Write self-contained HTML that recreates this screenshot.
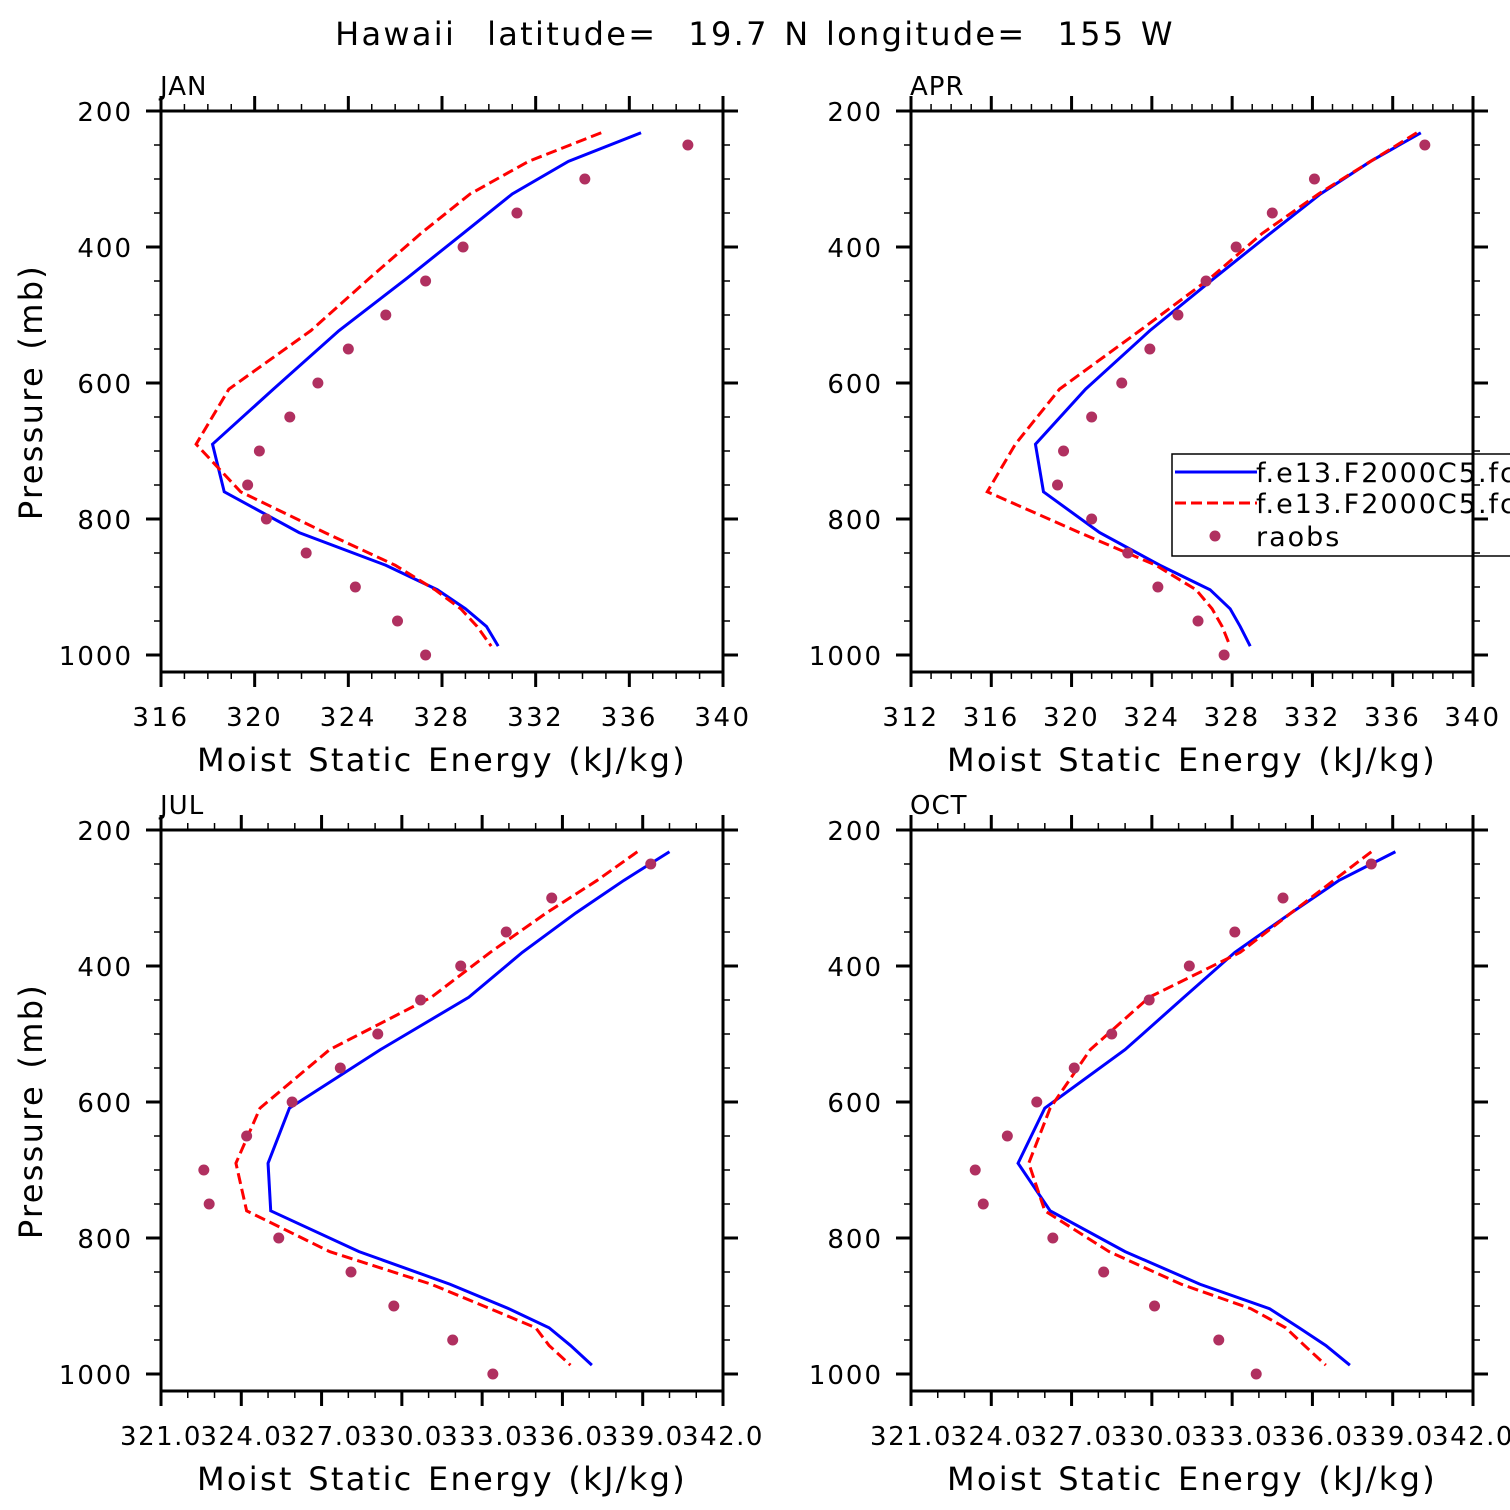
<!DOCTYPE html>
<html><head><meta charset="utf-8"><style>
html,body{margin:0;padding:0;background:#fff;}
svg{display:block;font-family:"DejaVu Sans","Liberation Sans",sans-serif;}
</style></head><body>
<svg id="chart" width="1510" height="1510" viewBox="0 0 1510 1510" xmlns="http://www.w3.org/2000/svg">
<text x="755" y="45" text-anchor="middle" font-size="32" letter-spacing="2.3" word-spacing="3" fill="#000" xml:space="preserve">Hawaii  latitude=  19.7 N longitude=  155 W</text>
</svg>
<script>
const levels=[232,274,322,380,446,523,609,690,760,820,868,904,932,958,987];
const obsLevels=[250,300,350,400,450,500,550,600,650,700,750,800,850,900,950,1000];
const janBlue=[336.5,333.4,331.0,328.9,326.5,323.6,320.8,318.2,318.7,321.9,325.6,327.8,329.0,329.9,330.4];
const janRed=[334.8,331.7,329.2,327.1,324.9,322.4,318.9,317.5,319.4,323.0,326.0,327.7,328.8,329.5,330.1];
const janObs=[338.5,334.1,331.2,328.9,327.3,325.6,324.0,322.7,321.5,320.2,319.7,320.5,322.2,324.3,326.1,327.3];
const aprBlue=[337.4,334.9,332.4,329.9,327.1,323.9,320.7,318.2,318.6,321.4,324.4,326.9,327.9,328.4,328.9];
const aprRed=[337.2,334.9,332.3,329.5,326.9,323.4,319.4,317.2,315.8,320.4,324.2,326.2,327.0,327.5,327.9];
const aprObs=[337.6,332.1,330.0,328.2,326.7,325.3,323.9,322.5,321.0,319.6,319.3,321.0,322.8,324.3,326.3,327.6];
const julBlue=[340.0,338.3,336.5,334.5,332.5,329.2,325.8,325.0,325.1,328.4,331.8,334.0,335.5,336.3,337.1];
const julRed=[338.8,337.3,335.4,333.3,331.1,327.3,324.7,323.8,324.2,327.3,331.1,333.3,335.0,335.5,336.3];
const julObs=[339.3,335.6,333.9,332.2,330.7,329.1,327.7,325.9,324.2,322.6,322.8,325.4,328.1,329.7,331.9,333.4];
const octBlue=[339.1,337.0,335.2,333.1,331.2,329.0,326.0,325.0,326.2,329.0,331.8,334.4,335.5,336.5,337.4];
const octRed=[338.2,336.8,335.2,333.3,329.9,327.7,326.2,325.4,326.0,328.4,331.1,333.7,335.0,335.7,336.5];
const octObs=[338.2,334.9,333.1,331.4,329.9,328.5,327.1,325.7,324.6,323.4,323.7,326.3,328.2,330.1,332.5,333.9];
const yTicks=[200,400,600,800,1000];
const xTicksA=[316,320,324,328,332,336,340];
const xTicksB=[312,316,320,324,328,332,336,340];
const xTicksC=[321,324,327,330,333,336,339,342];

const NS='http://www.w3.org/2000/svg';
const svg=document.getElementById('chart');
function mk(tag,attrs,parent){const e=document.createElementNS(NS,tag);for(const k in attrs)e.setAttribute(k,attrs[k]);(parent||svg).appendChild(e);return e;}

const panels=[
 {name:'jan',label:'JAN',x0:161,y0:111,xmin:316,xmax:340,ticks:xTicksA,dec:0,blue:janBlue,red:janRed,obs:janObs,ylab:true},
 {name:'apr',label:'APR',x0:911,y0:111,xmin:312,xmax:340,ticks:xTicksB,dec:0,blue:aprBlue,red:aprRed,obs:aprObs,ylab:false,legend:true},
 {name:'jul',label:'JUL',x0:161,y0:830,xmin:321,xmax:342,ticks:xTicksC,dec:1,blue:julBlue,red:julRed,obs:julObs,ylab:true},
 {name:'oct',label:'OCT',x0:911,y0:830,xmin:321,xmax:342,ticks:xTicksC,dec:1,blue:octBlue,red:octRed,obs:octObs,ylab:false}
];
const W=562,H=561;
panels.forEach(p=>{
 const g=mk('g',{});
 
 
 const xs=v=>p.x0+(v-p.xmin)/(p.xmax-p.xmin)*W;
 const ys=v=>p.y0+(v-200)*0.68;
 const t=mk('text',{x:p.x0-1,y:p.y0-16,'font-size':26,'letter-spacing':1},g);t.textContent=p.label;
 
 
 const bl=mk('polyline',{points:levels.map((l,i)=>xs(p.blue[i])+','+ys(l)).join(' '),fill:'none',stroke:'#0000ff','stroke-width':3},g);
 
 
 const rl=mk('polyline',{points:levels.map((l,i)=>xs(p.red[i])+','+ys(l)).join(' '),fill:'none',stroke:'#ff0000','stroke-width':3,'stroke-dasharray':'11,5'},g);
 
 
 obsLevels.forEach((l,i)=>{
  const c=mk('circle',{cx:xs(p.obs[i]),cy:ys(l),r:5.5,fill:'#b03060'},g);
  
  
 });
 if(p.legend){
  const lg=mk('g',{},g);
  
  
  mk('rect',{x:1172,y:454,width:400,height:102,fill:'#fff',stroke:'#000','stroke-width':1.5},lg);
  mk('line',{x1:1175,y1:472,x2:1257,y2:472,stroke:'#0000ff','stroke-width':3},lg);
  mk('line',{x1:1175,y1:503,x2:1257,y2:503,stroke:'#ff0000','stroke-width':3,'stroke-dasharray':'11,5'},lg);
  mk('circle',{cx:1215,cy:536,r:5.5,fill:'#b03060'},lg);
  [['f.e13.F2000C5.fc',482],['f.e13.F2000C5.fc',513],['raobs',546]].forEach(([s,y])=>{
   const tx=mk('text',{x:1256,y:y,'font-size':27,'letter-spacing':2},lg);tx.textContent=s;
   
   
  });
 }
 mk('rect',{x:p.x0,y:p.y0,width:W,height:H,fill:'none',stroke:'#000','stroke-width':3},g);
 for(let v=200;v<=1000;v+=50){
  const y=ys(v),maj=v%200===0,L=maj?15:7,w=maj?3:1.5;
  mk('line',{x1:p.x0-L,y1:y,x2:p.x0,y2:y,stroke:'#000','stroke-width':w},g);
  mk('line',{x1:p.x0+W,y1:y,x2:p.x0+W+L,y2:y,stroke:'#000','stroke-width':w},g);
 }
 yTicks.forEach(v=>{
  const tx=mk('text',{x:p.x0-28,y:ys(v)+10,'text-anchor':'end','font-size':26,'letter-spacing':2},g);tx.textContent=v;
  
  
 });
 for(let v=p.xmin;v<=p.xmax+1e-6;v+=1){
  const x=xs(v),maj=p.ticks.includes(v),L=maj?15:7,w=maj?3:1.5;
  mk('line',{x1:x,y1:p.y0+H,x2:x,y2:p.y0+H+L,stroke:'#000','stroke-width':w},g);
  mk('line',{x1:x,y1:p.y0-L,x2:x,y2:p.y0,stroke:'#000','stroke-width':w},g);
 }
 p.ticks.forEach(v=>{
  const tx=mk('text',{x:xs(v),y:p.y0+H+54,'text-anchor':'middle','font-size':26,'letter-spacing':p.dec?1.5:2.5},g);tx.textContent=v.toFixed(p.dec);
  
  
 });
 const xt=mk('text',{x:p.x0+W/2,y:p.y0+H+99,'text-anchor':'middle','font-size':32,'letter-spacing':2.3,'word-spacing':2},g);xt.textContent='Moist Static Energy (kJ/kg)';
 
 
 if(p.ylab){
  const cy=p.y0+281;
  const yt=mk('text',{x:42,y:cy,'text-anchor':'middle','font-size':32,'letter-spacing':2.3,'word-spacing':3,transform:'rotate(-90 42 '+cy+')'},g);yt.textContent='Pressure (mb)';
  
  
 }
});
</script>
</body></html>
